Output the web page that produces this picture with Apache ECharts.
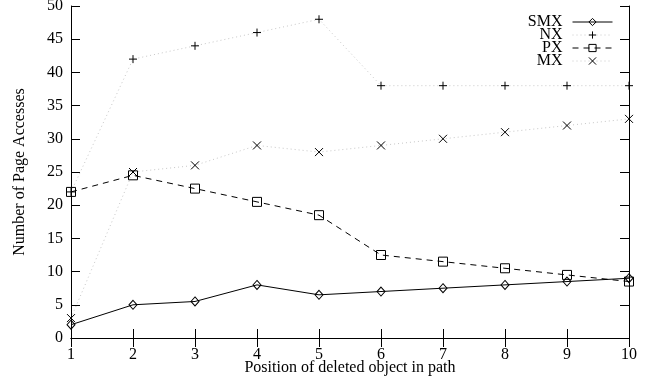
<!DOCTYPE html>
<html><head><meta charset="utf-8">
<script src="https://cdn.jsdelivr.net/npm/echarts@6/dist/echarts.min.js"></script>
<style>html,body{margin:0;padding:0;background:#fff}#c{width:652px;height:383px}</style>
</head><body><div id="c"></div>
<script>
const positions = [1,2,3,4,5,6,7,8,9,10];
const smx = [2, 5, 5.5, 8, 6.5, 7, 7.5, 8, 8.5, 9];
const nx  = [22, 42, 44, 46, 48, 38, 38, 38, 38, 38];
const px  = [22, 24.5, 22.5, 20.5, 18.5, 12.5, 11.5, 10.5, 9.5, 8.5];
const mx  = [3, 25, 26, 29, 28, 29, 30, 31, 32, 33];
const yTicks = [0,5,10,15,20,25,30,35,40,45,50];

const font = 'Liberation Serif';
const pair = a => a.map((v,i)=>[positions[i], v]);
const chart = echarts.init(document.getElementById('c'), null, {renderer:'canvas'});
const axisLine = {show:true, lineStyle:{color:'#000', width:1}};
const tick = {show:true, inside:true, length:9, lineStyle:{color:'#000', width:1}};
const hollow = {color:'transparent', borderColor:'#000', borderWidth:1};
const mk = (name, data, symbol, size, line, z) => ({
  name, type:'line', data:pair(data), symbol, symbolSize:size, z,
  showSymbol:true, animation:false,
  lineStyle: line,
  itemStyle: hollow,
  emphasis:{disabled:true}
});
chart.setOption({
  animation:false,
  backgroundColor:'#fff',
  textStyle:{fontFamily:font, color:'#000'},
  grid:{left:71, right:23, top:6, bottom:45, containLabel:false, outerBoundsMode:'none'},
  legend:{
    orient:'vertical', right:39, top:14, align:'right', padding:0,
    itemWidth:40, itemHeight:9, itemGap:-3,
    itemStyle: hollow,
    lineStyle:{width:1},
    textStyle:{fontFamily:font, fontSize:16, color:'#000', lineHeight:13, padding:[0,5,0,0]},
    data:['SMX','NX','PX','MX']
  },
  xAxis:[{
    type:'value', min:1, max:10, interval:1,
    name:'Position of deleted object in path', nameLocation:'middle', nameGap:22,
    nameMoveOverlap:false,
    nameTextStyle:{fontFamily:font, fontSize:16, color:'#000'},
    axisLine, axisTick:tick, splitLine:{show:false},
    axisLabel:{fontFamily:font, fontSize:16, color:'#000', margin:9}
  },{
    type:'value', position:'top', min:1, max:10, interval:1,
    axisLine, axisTick:tick, splitLine:{show:false}, axisLabel:{show:false}
  }],
  yAxis:[{
    type:'value', min:0, max:50, interval:5,
    name:'Number of Page Accesses', nameLocation:'middle', nameGap:43,
    nameMoveOverlap:false,
    nameTextStyle:{fontFamily:font, fontSize:16, color:'#000'},
    axisLine, axisTick:tick, splitLine:{show:false},
    axisLabel:{fontFamily:font, fontSize:16, color:'#000', margin:8}
  },{
    type:'value', position:'right', min:0, max:50, interval:5,
    axisLine, axisTick:tick, splitLine:{show:false}, axisLabel:{show:false}
  }],
  series:[
    mk('SMX', smx, 'diamond', [8,9], {color:'#000', width:1, type:'solid'}, 5),
    mk('NX', nx, 'path://M0,5L10,5M5,0L5,10', 8, {color:'#c8c8c8', width:1, type:[1,3]}, 2),
    mk('PX', px, 'rect', 9, {color:'#000', width:1, type:[6,5]}, 4),
    mk('MX', mx, 'path://M0,0L10,10M10,0L0,10', 8, {color:'#c8c8c8', width:1, type:[1,3]}, 3)
  ]
});
</script></body></html>
